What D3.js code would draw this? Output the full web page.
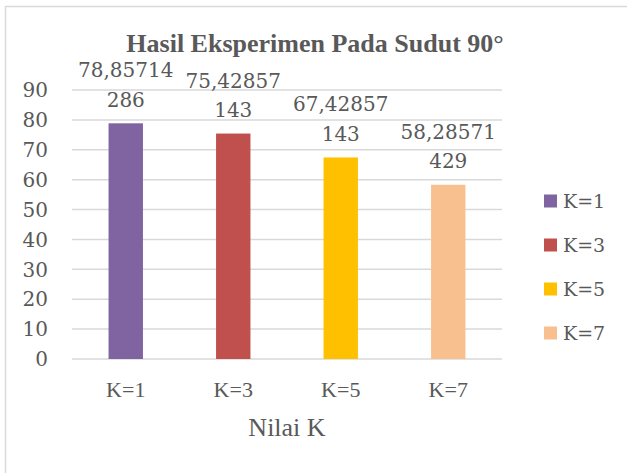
<!DOCTYPE html>
<html>
<head>
<meta charset="utf-8">
<script src="https://cdn.jsdelivr.net/npm/d3@7"></script>
<style>
  html, body { margin: 0; padding: 0; background: #fff; }
  svg { display: block; }
</style>
</head>
<body>
<div id="chart"></div>
<script>
(function () {
    const categories = ["K=1", "K=3", "K=5", "K=7"];
    const values = [78.85714286, 75.42857143, 67.42857143, 58.28571429];
    const colors = ["#8064A2", "#C0504D", "#FFC000", "#F9C08F"];
    const yTicks = [0, 10, 20, 30, 40, 50, 60, 70, 80, 90];

    const W = 627, H = 473;
    const margin = { top: 90, right: 125, bottom: 114, left: 72 };
    const width = W - margin.left - margin.right;
    const height = H - margin.top - margin.bottom;

    const textColor = "#595959";
    const gridColor = "#d9d9d9";
    const serif = "'Liberation Serif', 'Times New Roman', serif";
    const numFont = "'DejaVu Serif', serif";

    const svg = d3.select("#chart")
        .append("svg")
        .attr("width", W)
        .attr("height", H);

    // outer chart border (only top and left edges visible)
    svg.append("rect")
        .attr("x", 5.5)
        .attr("y", 6.5)
        .attr("width", 640)
        .attr("height", 500)
        .style("fill", "none")
        .style("stroke", gridColor)
        .style("stroke-width", 1.5);

    const g = svg.append("g")
        .attr("transform", `translate(${margin.left}, ${margin.top})`);

    const x = d3.scaleBand()
        .domain(categories)
        .range([0, width])
        .paddingInner(0.68)
        .paddingOuter(0.34);

    const y = d3.scaleLinear()
        .domain([0, 90])
        .range([height, 0]);

    // gridlines
    g.append("g")
        .selectAll("line")
        .data(yTicks)
        .enter().append("line")
        .attr("x1", 0)
        .attr("x2", width)
        .attr("y1", d => y(d))
        .attr("y2", d => y(d))
        .style("stroke", gridColor)
        .style("stroke-width", 1.5);

    // y tick labels
    g.append("g")
        .selectAll("text")
        .data(yTicks)
        .enter().append("text")
        .attr("x", -24)
        .attr("y", d => y(d))
        .attr("dy", "0.36em")
        .attr("text-anchor", "end")
        .style("font-family", numFont)
        .style("font-size", "20px")
        .style("fill", textColor)
        .text(d => d);

    // bars
    g.selectAll("rect.bar")
        .data(values)
        .enter().append("rect")
        .attr("class", "bar")
        .attr("x", (d, i) => x(categories[i]))
        .attr("y", d => y(d))
        .attr("width", x.bandwidth())
        .attr("height", d => height - y(d))
        .style("fill", (d, i) => colors[i]);

    // data labels, wrapped in two lines like the original
    const labels = g.selectAll("text.value")
        .data(values)
        .enter().append("text")
        .attr("class", "value")
        .attr("text-anchor", "middle")
        .style("font-family", numFont)
        .style("font-size", "20px")
        .style("fill", textColor);

    labels.each(function (d, i) {
        const s = d.toFixed(8).replace(".", ",");
        const cx = x(categories[i]) + x.bandwidth() / 2;
        const t = d3.select(this);
        t.append("tspan").attr("x", cx).attr("y", y(d) - 46).text(s.slice(0, 8));
        t.append("tspan").attr("x", cx).attr("y", y(d) - 16.5).text(s.slice(8));
    });

    // category labels
    g.append("g")
        .selectAll("text")
        .data(categories)
        .enter().append("text")
        .attr("x", d => x(d) + x.bandwidth() / 2)
        .attr("y", height + 38)
        .attr("text-anchor", "middle")
        .style("font-family", serif)
        .style("font-size", "22px")
        .style("fill", textColor)
        .text(d => d);

    // axis title
    g.append("text")
        .attr("x", width / 2)
        .attr("y", height + 77)
        .attr("text-anchor", "middle")
        .style("font-family", serif)
        .style("font-size", "26px")
        .style("fill", textColor)
        .text("Nilai K");

    // chart title
    svg.append("text")
        .attr("x", 315)
        .attr("y", 52)
        .attr("text-anchor", "middle")
        .style("font-family", serif)
        .style("font-weight", "bold")
        .style("font-size", "26px")
        .style("fill", textColor)
        .text("Hasil Eksperimen Pada Sudut 90°");

    // legend
    const legend = svg.append("g")
        .selectAll("g")
        .data(categories)
        .enter().append("g")
        .attr("transform", (d, i) => `translate(544, ${201 + i * 44})`);

    legend.append("rect")
        .attr("x", 0)
        .attr("y", -6.5)
        .attr("width", 13)
        .attr("height", 13)
        .style("fill", (d, i) => colors[i]);

    legend.append("text")
        .attr("x", 19)
        .attr("y", 0)
        .attr("dy", "0.36em")
        .style("font-family", numFont)
        .style("font-size", "19px")
        .style("fill", textColor)
        .text(d => d);
})();
</script>
</body>
</html>
